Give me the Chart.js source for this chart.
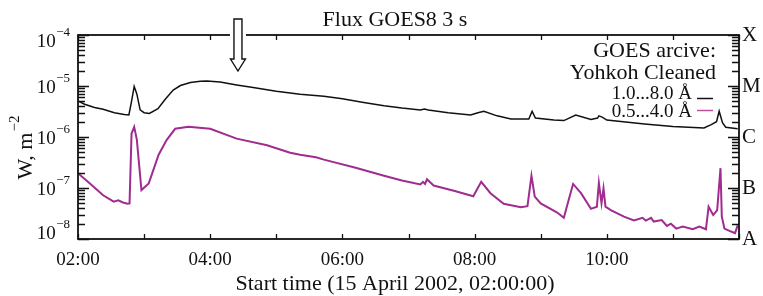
<!DOCTYPE html>
<html>
<head>
<meta charset="utf-8">
<script src="https://cdn.jsdelivr.net/npm/chart.js@4.4.1/dist/chart.umd.min.js"></script>
<style>
  html, body { margin: 0; padding: 0; background: #fff; }
  #wrap { width: 763px; height: 296px; }
</style>
</head>
<body>
<div id="wrap"><canvas id="c" width="763" height="296"></canvas></div>
<script>
// ---- data (time in hours of 15 April 2002, flux in W m^-2) ----
const softTimes = [2.00,2.10,2.25,2.38,2.55,2.70,2.77,2.81,2.85,2.89,2.94,3.00,3.08,3.21,3.32,3.44,3.55,3.70,3.85,3.95,4.15,4.40,4.65,5.00,5.36,5.72,6.00,6.30,6.63,6.90,7.18,7.24,7.30,7.60,7.94,8.05,8.14,8.34,8.55,8.82,8.87,8.92,9.20,9.35,9.53,9.76,9.86,9.88,9.93,10.00,10.57,11.00,11.47,11.58,11.66,11.70,11.75,11.80,11.98];
const softFlux  = [5.1e-6,4.4e-6,3.8e-6,3.5e-6,3.0e-6,2.75e-6,2.7e-6,5.0e-6,9.8e-6,7.0e-6,3.4e-6,3.0e-6,2.9e-6,3.6e-6,5.5e-6,8.3e-6,1.02e-5,1.17e-5,1.24e-5,1.26e-5,1.2e-5,1.05e-5,9.3e-6,7.9e-6,6.9e-6,6.3e-6,5.6e-6,4.8e-6,4.1e-6,3.7e-6,3.4e-6,3.55e-6,3.4e-6,3.0e-6,2.7e-6,3.0e-6,3.2e-6,2.6e-6,2.25e-6,2.25e-6,3.2e-6,2.35e-6,2.15e-6,2.1e-6,2.7e-6,2.2e-6,2.35e-6,2.6e-6,2.45e-6,2.15e-6,1.8e-6,1.6e-6,1.5e-6,1.75e-6,2.0e-6,3.2e-6,1.9e-6,1.55e-6,1.45e-6];

const hardTimes = [2.00,2.18,2.38,2.54,2.61,2.68,2.75,2.78,2.81,2.85,2.89,2.96,3.07,3.22,3.34,3.47,3.67,4.00,4.40,4.86,5.21,5.36,5.60,5.72,6.20,6.63,6.90,7.18,7.22,7.25,7.28,7.38,7.70,7.98,8.10,8.24,8.44,8.70,8.80,8.86,8.91,9.00,9.25,9.35,9.43,9.49,9.61,9.76,9.85,9.88,9.92,9.95,9.98,10.06,10.26,10.41,10.54,10.59,10.67,10.71,10.83,10.91,10.97,11.05,11.15,11.30,11.40,11.50,11.54,11.61,11.67,11.72,11.74,11.78,11.88,11.94,11.98];
const hardFlux  = [1.95e-7,1.23e-7,7.2e-8,5.4e-8,5.75e-8,5.2e-8,4.9e-8,5.0e-8,1.17e-6,1.58e-6,8.9e-7,9.1e-8,1.23e-7,4.5e-7,8.7e-7,1.45e-6,1.58e-6,1.45e-6,9.3e-7,6.9e-7,4.9e-7,4.5e-7,4.0e-7,3.6e-7,2.5e-7,1.74e-7,1.4e-7,1.17e-7,1.32e-7,1.2e-7,1.48e-7,1.12e-7,8.7e-8,6.9e-8,1.32e-7,7.9e-8,4.9e-8,4.2e-8,4.4e-8,1.74e-7,6.8e-8,5.0e-8,3.3e-8,2.6e-8,6.3e-8,1.2e-7,7.9e-8,3.9e-8,4.3e-8,1.26e-7,5.0e-8,9.8e-8,4.3e-8,3.7e-8,2.75e-8,2.3e-8,2.6e-8,2.3e-8,2.6e-8,2.2e-8,2.35e-8,1.8e-8,2.0e-8,1.6e-8,1.75e-8,1.55e-8,1.75e-8,1.55e-8,4.3e-8,2.95e-8,3.7e-8,2.45e-7,2.75e-8,1.6e-8,1.4e-8,1.3e-8,1.85e-8];

const seriesLabels = ['1.0...8.0 Å', '0.5...4.0 Å'];
const xTickLabels = {2:'02:00', 4:'04:00', 6:'06:00', 8:'08:00', 10:'10:00'};
const yDecades = [-4, -5, -6, -7, -8];
const classLabels = {'-4':'X', '-5':'M', '-6':'C', '-7':'B', '-8':'A'};
const titleText = 'Flux GOES8 3 s';
const xTitleText = 'Start time (15 April 2002, 02:00:00)';
const yTitleBase = 'W, m';
const yTitleSup = '−2';
const legendHeader = ['GOES arcive:', 'Yohkoh Cleaned'];
const arrowTime = 4.42;

const SERIF = "'Liberation Serif', 'DejaVu Serif', serif";
const INK = '#111';
const SOFT_COLOR = '#111111';
const HARD_COLOR = '#a02c8f';

function decadeOf(v) {
  const l = Math.log10(v);
  const r = Math.round(l);
  return Math.abs(l - r) < 1e-6 ? String(r) : null;
}

const decorPlugin = {
  id: 'decor',
  afterDraw(chart) {
    const ctx = chart.ctx;
    const a = chart.chartArea;
    const xs = chart.scales.x, ys = chart.scales.y;
    ctx.save();
    ctx.strokeStyle = INK;
    ctx.fillStyle = INK;
    // inward ticks on y axes
    ctx.lineWidth = 1.3;
    for (let e = -8; e <= -4; e++) {
      for (let k = 1; k <= 9; k++) {
        const v = k * Math.pow(10, e);
        if (v > 1.0001e-4) break;
        const py = Math.round(ys.getPixelForValue(v)) + 0.5;
        const len = (k === 1) ? 11 : 7;
        ctx.beginPath();
        ctx.moveTo(a.left, py); ctx.lineTo(a.left + len, py);
        ctx.moveTo(a.right, py); ctx.lineTo(a.right - len, py);
        ctx.stroke();
      }
    }
    // inward hourly ticks on x axes
    for (let h = 2; h <= 12; h++) {
      const px = Math.round(xs.getPixelForValue(h)) + 0.5;
      ctx.beginPath();
      ctx.moveTo(px, a.bottom); ctx.lineTo(px, a.bottom - 5);
      ctx.moveTo(px, a.top); ctx.lineTo(px, a.top + 5);
      ctx.stroke();
    }
    // frame
    ctx.lineWidth = 1.8;
    ctx.strokeRect(a.left, a.top, a.right - a.left, a.bottom - a.top);

    // left decade labels 10^n with raised exponent
    ctx.textBaseline = 'middle';
    yDecades.forEach(e => {
      const py = ys.getPixelForValue(Math.pow(10, e));
      const cy = Math.min(Math.max(py + 2, a.top + 7), a.bottom - 5);
      const sup = '−' + Math.abs(e);
      ctx.font = '13px ' + SERIF;
      const wSup = ctx.measureText(sup).width;
      const right = a.left - 8;
      ctx.textAlign = 'left';
      ctx.fillText(sup, right - wSup, cy - 9);
      ctx.font = '19px ' + SERIF;
      ctx.textAlign = 'right';
      ctx.fillText('10', right - wSup - 0.5, cy);
    });

    // arrow
    const ax = xs.getPixelForValue(arrowTime);
    ctx.fillStyle = '#fff';
    ctx.fillRect(ax - 8, a.top - 3, 16, 6);
    ctx.beginPath();
    ctx.moveTo(ax - 4, a.top - 16);
    ctx.lineTo(ax + 4, a.top - 16);
    ctx.lineTo(ax + 4, a.top + 24);
    ctx.lineTo(ax + 7.5, a.top + 24);
    ctx.lineTo(ax, a.top + 36);
    ctx.lineTo(ax - 7.5, a.top + 24);
    ctx.lineTo(ax - 4, a.top + 24);
    ctx.closePath();
    ctx.fill();
    ctx.lineWidth = 1.4;
    ctx.strokeStyle = INK;
    ctx.stroke();

    // title
    ctx.fillStyle = INK;
    ctx.textBaseline = 'middle';
    ctx.textAlign = 'center';
    ctx.font = '22px ' + SERIF;
    ctx.fillText(titleText, 395, 20);
    // x-axis title
    ctx.fillText(xTitleText, 395, 284);
    // y-axis title (rotated, with superscript)
    ctx.save();
    ctx.translate(24, 148);
    ctx.rotate(-Math.PI / 2);
    ctx.textAlign = 'left';
    ctx.font = '22px ' + SERIF;
    const wBase = ctx.measureText(yTitleBase).width;
    ctx.font = '15px ' + SERIF;
    const wSup = ctx.measureText(yTitleSup).width;
    const start = -(wBase + wSup) / 2;
    ctx.font = '22px ' + SERIF;
    ctx.fillText(yTitleBase, start, 2);
    ctx.font = '15px ' + SERIF;
    ctx.fillText(yTitleSup, start + wBase + 1, -9);
    ctx.restore();

    // legend
    ctx.textAlign = 'right';
    ctx.font = '22px ' + SERIF;
    ctx.fillText(legendHeader[0], 716, 51);
    ctx.fillText(legendHeader[1], 716, 73);
    ctx.font = '19px ' + SERIF;
    ctx.fillText(seriesLabels[0], 692, 94);
    ctx.fillText(seriesLabels[1], 692, 112);
    ctx.lineWidth = 1.5;
    ctx.strokeStyle = SOFT_COLOR;
    ctx.beginPath(); ctx.moveTo(697, 98.5); ctx.lineTo(713, 98.5); ctx.stroke();
    ctx.strokeStyle = '#c0509f';
    ctx.beginPath(); ctx.moveTo(697, 110.5); ctx.lineTo(713, 110.5); ctx.stroke();
    ctx.restore();
  }
};

new Chart(document.getElementById('c'), {
  type: 'line',
  data: {
    datasets: [
      { label: seriesLabels[0], data: softTimes.map((t, i) => ({ x: t, y: softFlux[i] })),
        borderColor: SOFT_COLOR, borderWidth: 1.5, pointRadius: 0, tension: 0, fill: false },
      { label: seriesLabels[1], data: hardTimes.map((t, i) => ({ x: t, y: hardFlux[i] })),
        borderColor: HARD_COLOR, borderWidth: 2, pointRadius: 0, tension: 0, fill: false }
    ]
  },
  options: {
    responsive: false,
    animation: false,
    layout: { padding: { top: 35, left: 0, right: 0, bottom: 0 } },
    plugins: { legend: { display: false }, tooltip: { enabled: false }, title: { display: false } },
    scales: {
      x: {
        type: 'linear', min: 2, max: 12,
        afterFit(s) { s.height = 57; },
        grid: { display: false, drawTicks: false }, border: { display: false },
        ticks: { stepSize: 2, autoSkip: false, maxRotation: 0, padding: 10, color: INK,
          font: { family: SERIF, size: 19 },
          callback: v => xTickLabels[v] || '' }
      },
      y: {
        type: 'logarithmic', position: 'left', min: 1e-8, max: 1e-4,
        afterFit(s) { s.width = 78; },
        grid: { display: false, drawTicks: false }, border: { display: false },
        ticks: { display: false }
      },
      y2: {
        type: 'logarithmic', position: 'right', min: 1e-8, max: 1e-4,
        afterFit(s) { s.width = 24; },
        grid: { display: false, drawTicks: false }, border: { display: false },
        ticks: { autoSkip: false, padding: 3, color: INK, font: { family: SERIF, size: 21 },
          callback: v => { const d = decadeOf(v); return d ? classLabels[d] : ''; } }
      }
    }
  },
  plugins: [decorPlugin]
});
</script>
</body>
</html>
